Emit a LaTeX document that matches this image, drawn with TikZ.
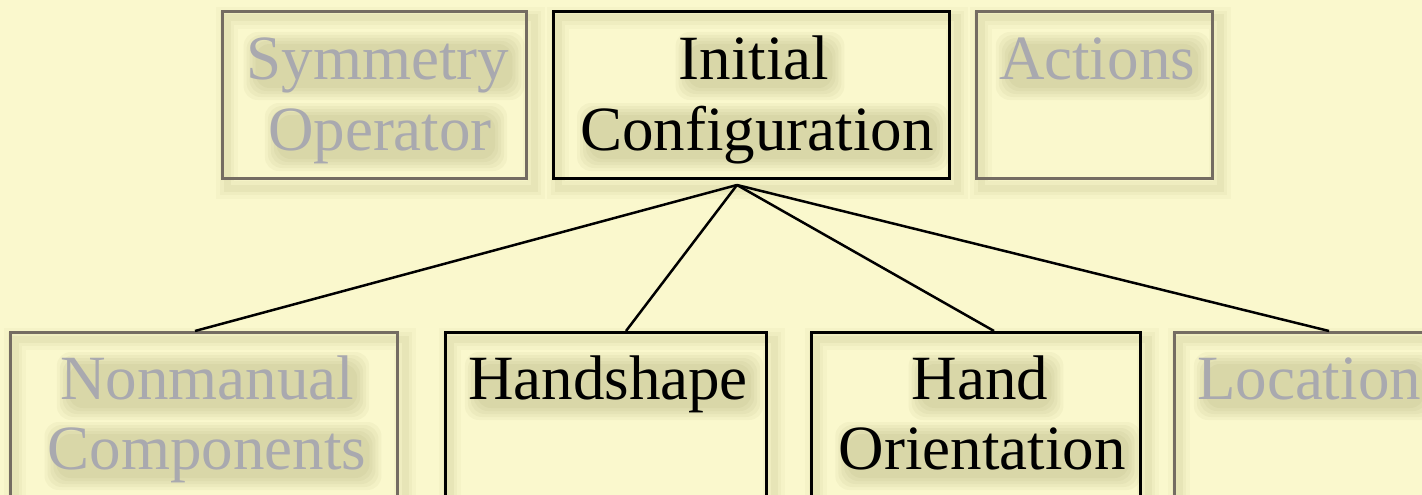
\documentclass[tikz,border=0pt]{standalone}
\usepackage{fontspec}
\setmainfont{Liberation Serif}
\definecolor{bgc}{HTML}{FAF8CD}
\definecolor{greytext}{HTML}{A9A9AF}
\definecolor{greyline}{HTML}{746C62}
\definecolor{shadowc}{HTML}{5C5A20}
\pgfdeclarelayer{backdrop}
\pgfdeclarelayer{shade}
\pgfsetlayers{backdrop,shade,main}
\tikzset{
  txt/.style={inner sep=0pt, anchor=base, font=\fontsize{63}{70}\selectfont},
  boxbase/.style={rectangle, inner sep=0pt, line width=3pt, anchor=north west},
  activebox/.style={boxbase, draw=black},
  passivebox/.style={boxbase, draw=greyline},
  activetxt/.style={txt, text=black},
  passivetxt/.style={txt, text=greytext},
  link/.style={line width=2.5pt, black}
}
% #1 name, #2 x, #3 baseline y, #4 style, #5 text
\newcommand\shtext[5]{%
  \node[#4] (#1) at (#2,#3) {#5};
  \begin{pgfonlayer}{shade}
  \foreach \e in {9,6,3,0,-3}{%
    \fill[shadowc, fill opacity=0.045, rounded corners=14pt]
      ([shift={(6-\e,-38-\e)}]#1.base west) rectangle ([shift={(6+\e,12+\e)}]#1.base east);}%
  \end{pgfonlayer}
}
% box outline shadow: #1 box name
\newcommand\shbox[1]{%
  \begin{pgfonlayer}{shade}
  \foreach \w/\o in {22/0.03,14/0.04,7/0.05}{%
    \draw[draw=shadowc, line width=\w pt, draw opacity=\o]
      ([shift={(6,8)}]#1.north west) rectangle ([shift={(6,8)}]#1.south east);}%
  \end{pgfonlayer}
}
\begin{document}
\begin{tikzpicture}[x=1pt, y=-1pt]
\useasboundingbox (0,0) rectangle (1422,495);
\clip (0,0) rectangle (1422,495);
\begin{pgfonlayer}{backdrop}
\fill[bgc] (0,0) rectangle (1422,495);
\end{pgfonlayer}

% boxes
\node[passivebox, minimum width=304pt, minimum height=167pt] (sym) at (221,10) {};
\node[activebox,  minimum width=396pt, minimum height=167pt] (ic)  at (552,10) {};
\node[passivebox, minimum width=236pt, minimum height=167pt] (act) at (975,10) {};
\node[passivebox, minimum width=387pt, minimum height=194pt] (nm)  at (9,331) {};
\node[activebox,  minimum width=321pt, minimum height=194pt] (hs)  at (444,331) {};
\node[activebox,  minimum width=329pt, minimum height=194pt] (ho)  at (810,331) {};
\node[passivebox, minimum width=297pt, minimum height=194pt] (loc) at (1173,331) {};
\shbox{sym}\shbox{ic}\shbox{act}\shbox{nm}\shbox{hs}\shbox{ho}\shbox{loc}

% texts
\shtext{symA}{378}{79}{passivetxt}{Symmetry}
\shtext{symB}{380}{150}{passivetxt}{Operator}
\shtext{icA}{754}{79}{activetxt}{Initial}
\shtext{icB}{757}{150}{activetxt}{Configuration}
\shtext{actA}{1097}{79}{passivetxt}{Actions}
\shtext{nmA}{207}{399}{passivetxt}{Nonmanual}
\shtext{nmB}{207}{469}{passivetxt}{Components}
\shtext{hsA}{608}{399}{activetxt}{Handshape}
\shtext{hoA}{980}{399}{activetxt}{Hand}
\shtext{hoB}{982}{469}{activetxt}{Orientation}
\shtext{locA}{1309}{399}{passivetxt}{Location}

% connectors
\coordinate (hub) at (737,185);
\coordinate (nmEnd)  at ([xshift=-9pt]nm.north);
\coordinate (hsEnd)  at ([xshift=20pt]hs.north);
\coordinate (hoEnd)  at ([xshift=18pt]ho.north);
\coordinate (locEnd) at ([xshift=6pt]loc.north);
\draw[link] (hub) -- (nmEnd);
\draw[link] (hub) -- (hsEnd);
\draw[link] (hub) -- (hoEnd);
\draw[link] (hub) -- (locEnd);
\end{tikzpicture}
\end{document}
